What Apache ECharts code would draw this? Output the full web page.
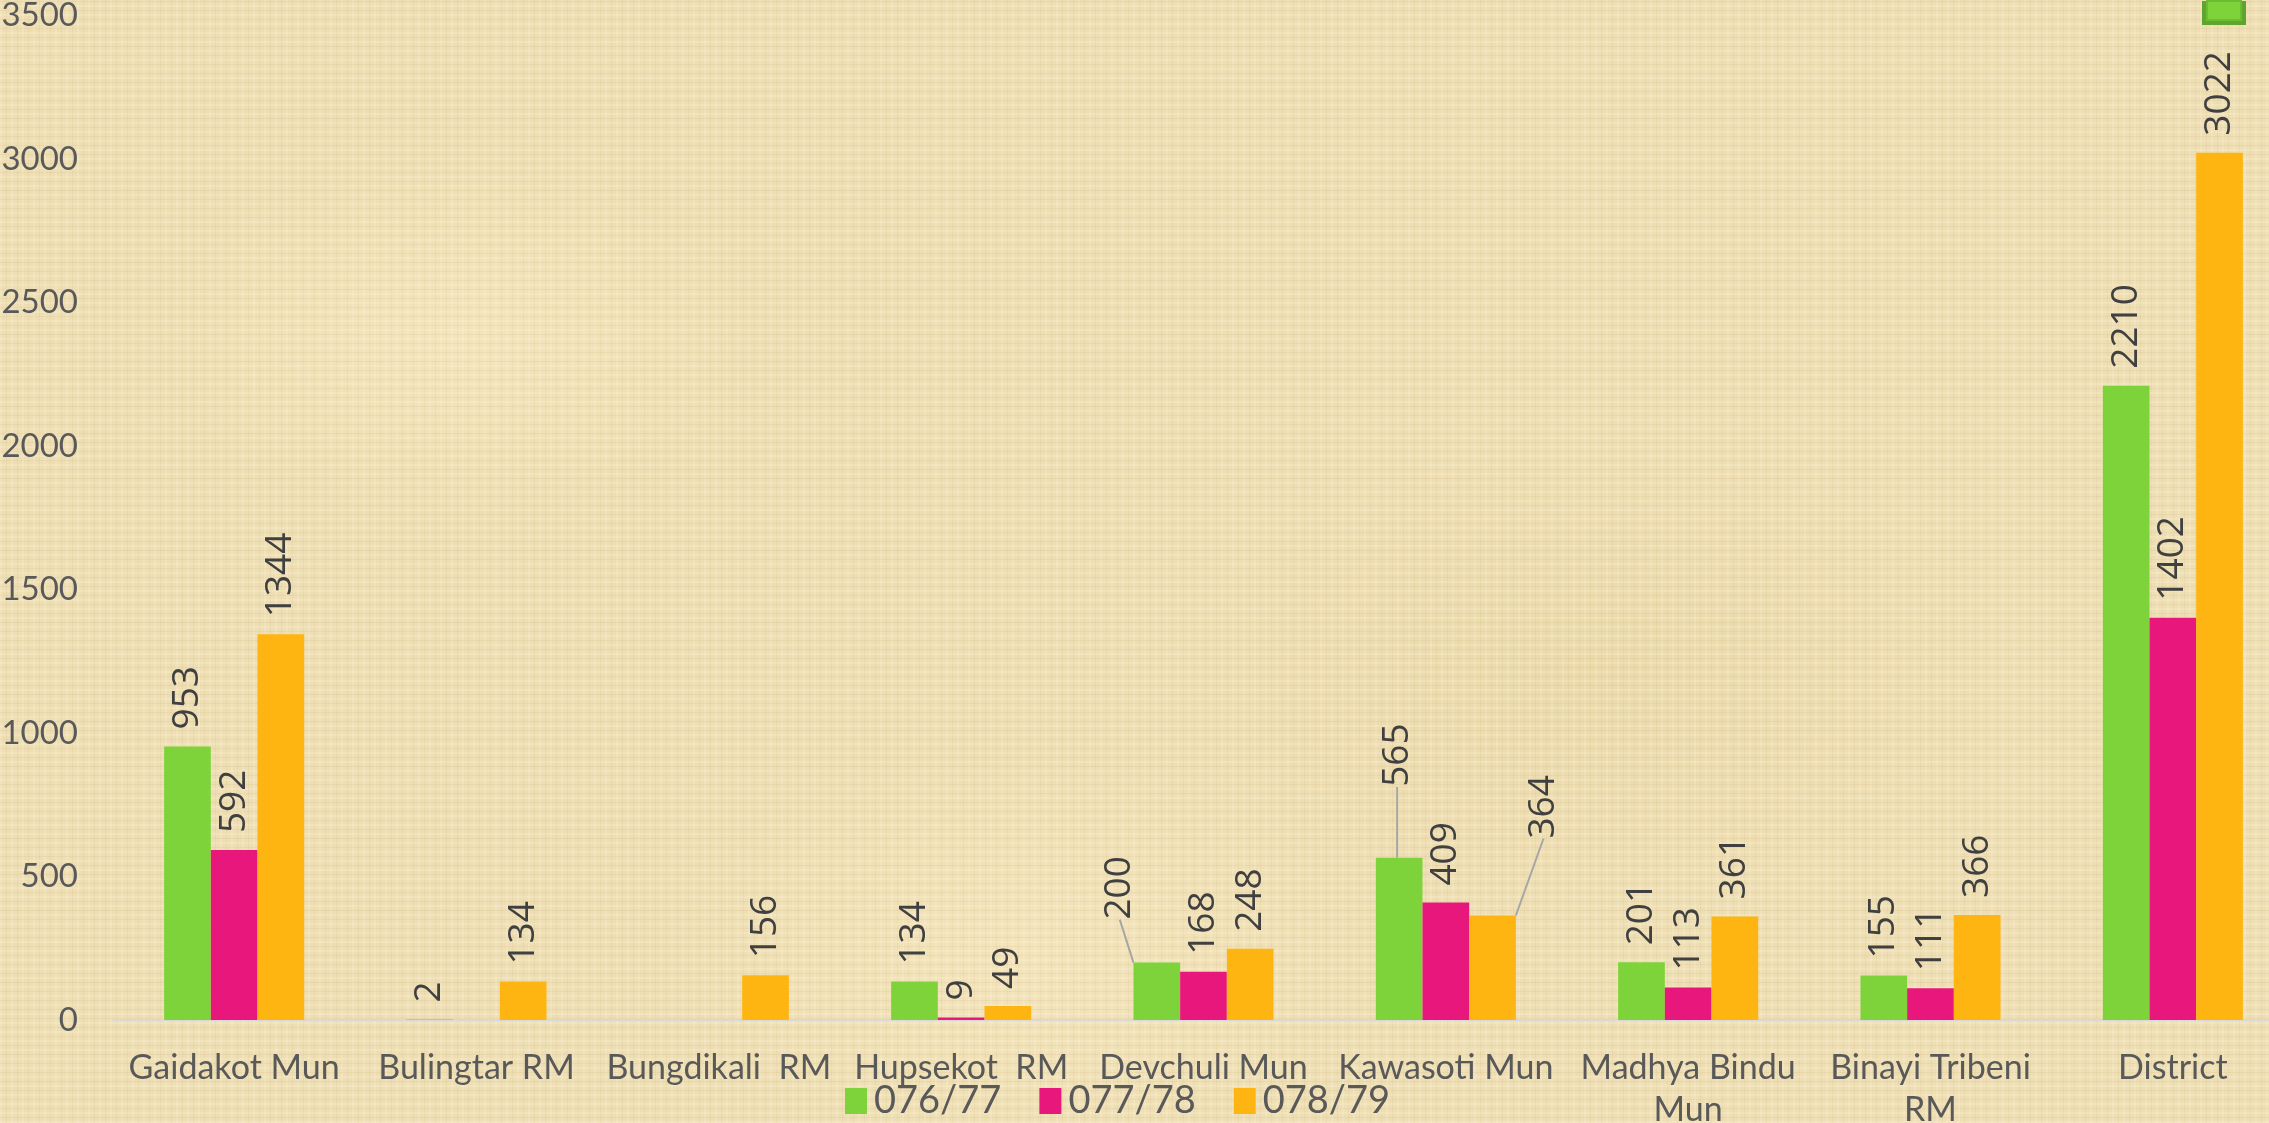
<!DOCTYPE html>
<html>
<head>
<meta charset="utf-8">
<script src="https://cdn.jsdelivr.net/npm/echarts@6/dist/echarts.min.js"></script>
<style>
  html, body { margin: 0; padding: 0; }
  body {
    width: 2269px;
    height: 1123px;
    overflow: hidden;
    background-color: #EEDEB3;
    background-image:
      repeating-linear-gradient(0deg, rgba(255, 246, 220, 0.22) 0 2px, rgba(0, 0, 0, 0) 2px 5px, rgba(180, 150, 90, 0.10) 5px 6px, rgba(0, 0, 0, 0) 6px 9px),
      repeating-linear-gradient(90deg, rgba(255, 246, 220, 0.20) 0 2px, rgba(0, 0, 0, 0) 2px 6px, rgba(180, 150, 90, 0.09) 6px 7px, rgba(0, 0, 0, 0) 7px 11px),
      radial-gradient(ellipse 300px 180px at 20% 30%, rgba(255, 240, 205, 0.35), rgba(0, 0, 0, 0)),
      radial-gradient(ellipse 400px 220px at 70% 60%, rgba(225, 200, 140, 0.22), rgba(0, 0, 0, 0)),
      radial-gradient(ellipse 350px 200px at 45% 85%, rgba(255, 240, 205, 0.30), rgba(0, 0, 0, 0));
  }
  #chart { width: 2269px; height: 1123px; }
</style>
</head>
<body>
<div id="chart"></div>
<script>
// categories and values
const categories = [
  "Gaidakot Mun", "Bulingtar RM", "Bungdikali  RM", "Hupsekot  RM",
  "Devchuli Mun", "Kawasoti Mun", "Madhya Bindu\nMun", "Binayi Tribeni\nRM", "District"
];
const seriesNames = ["076/77", "077/78", "078/79"];
const fy7677 = [953, 2, null, 134, 200, 565, 201, 155, 2210];
const fy7778 = [592, null, null, 9, 168, 409, 113, 111, 1402];
const fy7879 = [1344, 134, 156, 49, 248, 364, 361, 366, 3022];
const yMin = 0, yMax = 3500, yStep = 500;

const colors = ["#7ED33A", "#E8177C", "#FFB511"];

// labels that were dragged away from their bars (series-index -> screen shift x, y)
const movedLabels = {
  "0-4": [-37, -26],
  "0-5": [-2, -54],
  "2-5": [51, -60]
};

function buildData(values, s) {
  return values.map((v, i) => {
    if (movedLabels[s + "-" + i]) {
      return { value: v, labelLine: { show: true } };
    }
    return v;
  });
}

const chart = echarts.init(document.getElementById("chart"), null, { renderer: "canvas" });

const series = [fy7677, fy7778, fy7879].map((vals, s) => ({
  name: seriesNames[s],
  type: "bar",
  data: buildData(vals, s),
  barGap: "0%",
  barCategoryGap: "42.2%",
  itemStyle: { color: colors[s] },
  label: {
    show: true,
    position: "top",
    rotate: 90,
    align: "left",
    verticalAlign: "middle",
    distance: 17,
    fontFamily: "Open Sans",
    fontSize: 37,
    color: "#404040"
  },
  labelLine: {
    show: false,
    lineStyle: { color: "#A6A6A6", width: 2 }
  },
  // label is rotated 90deg, so its dx/dy run in the rotated frame
  labelLayout: (p) => {
    const m = movedLabels[p.seriesIndex + "-" + p.dataIndex];
    return m ? { dx: -m[1], dy: m[0] } : {};
  }
}));

chart.setOption({
  backgroundColor: "transparent",
  animation: false,
  color: colors,
  grid: { left: 113, right: -25, top: 15.5, bottom: 103, outerBoundsMode: "none", containLabel: false },
  legend: {
    data: seriesNames,
    left: 840,
    top: 1077,
    itemWidth: 22,
    itemHeight: 26,
    itemGap: 38,
    icon: "rect",
    textStyle: {
      fontFamily: "Lato",
      fontSize: 38,
      color: "#595959",
      padding: [0, 0, 0, 2]
    }
  },
  xAxis: {
    type: "category",
    data: categories,
    axisLine: { show: true, lineStyle: { color: "#D9D9D9", width: 2 } },
    axisTick: { show: false },
    axisLabel: {
      interval: 0,
      margin: 27,
      fontFamily: "Lato",
      fontSize: 34,
      lineHeight: 42,
      color: "#595959"
    }
  },
  yAxis: {
    type: "value",
    min: yMin,
    max: yMax,
    interval: yStep,
    axisLine: { show: false },
    axisTick: { show: false },
    splitLine: { show: false },
    axisLabel: {
      margin: 35,
      fontFamily: "Lato",
      fontSize: 33,
      color: "#595959",
      formatter: (v) => String(v)
    }
  },
  graphic: [
    {
      type: "group",
      right: 23,
      top: 0,
      children: [
        { type: "rect", shape: { x: 0, y: 0, width: 44, height: 24 }, style: { fill: "#5DA52C" } },
        { type: "rect", shape: { x: 5, y: 0, width: 34, height: 19 }, style: { fill: "#7ED33A", stroke: "#6BBB33", lineWidth: 2 } }
      ]
    }
  ],
  series: series
});
</script>
</body>
</html>
